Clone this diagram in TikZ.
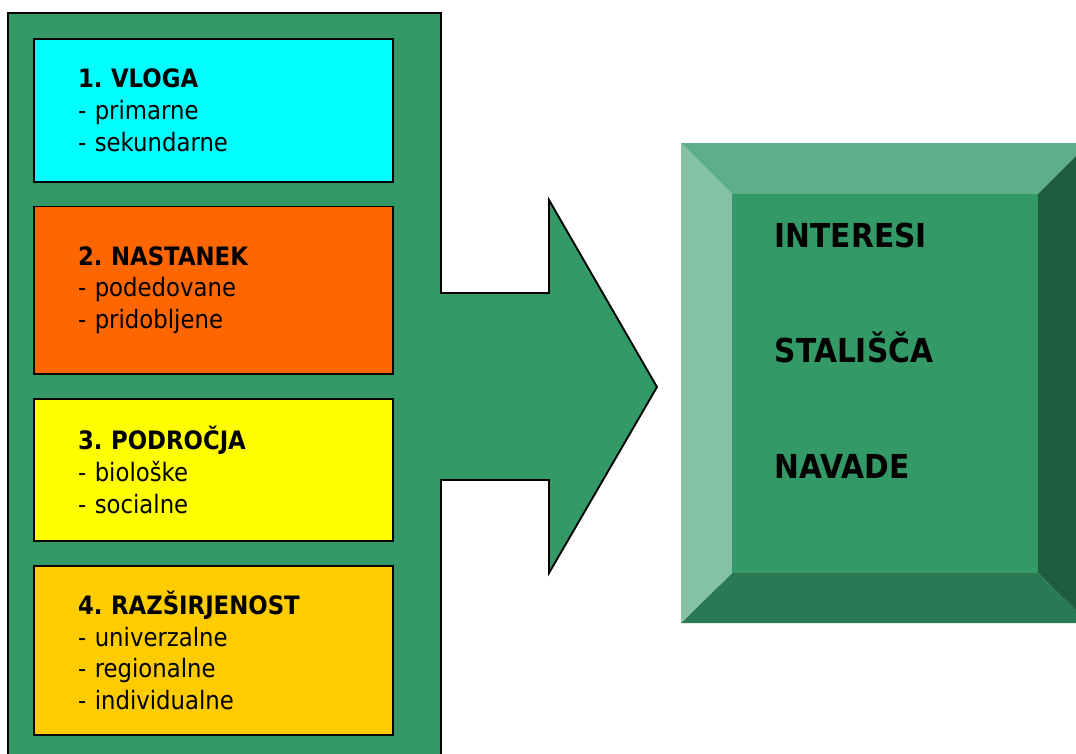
\documentclass[tikz,border=0pt]{standalone}
\usepackage{fontspec}
\setmainfont{DejaVu Sans}[FakeStretch=0.9]
\usetikzlibrary{positioning}
\frenchspacing

\definecolor{panelgreen}{RGB}{51,153,102}
\definecolor{bevtop}{RGB}{92,175,134}
\definecolor{bevleft}{RGB}{133,194,163}
\definecolor{bevbottom}{RGB}{41,122,82}
\definecolor{bevright}{RGB}{31,92,61}
\definecolor{vlogacol}{RGB}{0,255,255}
\definecolor{nastanekcol}{RGB}{255,102,0}
\definecolor{podrocjacol}{RGB}{255,255,0}
\definecolor{razsircol}{RGB}{255,204,0}

\begin{document}
\begin{tikzpicture}[x=0.75pt,y=-0.75pt,node distance=17.25pt,
                    cat box/.style={rectangle,draw,line width=1.4pt,minimum width=269.5pt,
                      text width=203.25pt,inner xsep=33.1pt,inner ysep=0pt,align=left,
                      font=\fontsize{19}{23.8}\selectfont},
                    face text/.style={anchor=base west,font=\fontsize{24.75}{30}\selectfont\bfseries}]
  \useasboundingbox (0,0) rectangle (1076,754);
  \clip (0,0) rectangle (1076,754);
  % left panel with the arrow
  \draw[fill=panelgreen,line width=1.4pt,line join=miter]
    (8,13) -- (441,13) -- (441,293) -- (549,293) -- (549,200) -- (657,387)
    -- (549,573) -- (549,480) -- (441,480) -- (441,775) -- (8,775) -- cycle;
  \node[cat box,fill=vlogacol,minimum height=107pt,anchor=north west] (vloga) at (33,38)
    {\textbf{1. VLOGA}\\- primarne\\- sekundarne};
  \node[cat box,fill=nastanekcol,minimum height=125.5pt] (nastanek) [below=of vloga]
    {\textbf{2. NASTANEK}\\- podedovane\\- pridobljene};
  \node[cat box,fill=podrocjacol,minimum height=107pt] (podrocja) [below=of nastanek]
    {\textbf{3. PODROČJA}\\- biološke\\- socialne};
  \node[cat box,fill=razsircol,minimum height=126.5pt] (razsirjenost) [below=of podrocja]
    {\textbf{4. RAZŠIRJENOST}\\- univerzalne\\- regionalne\\- individualne};
  % bevelled box
  \coordinate (bo1) at (681,143); \coordinate (bo2) at (1089,143);
  \coordinate (bo3) at (1089,623); \coordinate (bo4) at (681,623);
  \coordinate (bi1) at (732,194); \coordinate (bi2) at (1038,194);
  \coordinate (bi3) at (1038,573); \coordinate (bi4) at (732,573);
  \fill[bevtop] (bo1) -- (bo2) -- (bi2) -- (bi1) -- cycle;
  \fill[bevright] (bo2) -- (bo3) -- (bi3) -- (bi2) -- cycle;
  \fill[bevbottom] (bo3) -- (bo4) -- (bi4) -- (bi3) -- cycle;
  \fill[bevleft] (bo4) -- (bo1) -- (bi1) -- (bi4) -- cycle;
  \fill[panelgreen] (bi1) rectangle (bi3);
  \node[face text] (interesi) at (770,247) {INTERESI};
  \node[face text] (stalisca) at (770,362) {STALIŠČA};
  \node[face text] (navade) at (770,478) {NAVADE};
\end{tikzpicture}
\end{document}
